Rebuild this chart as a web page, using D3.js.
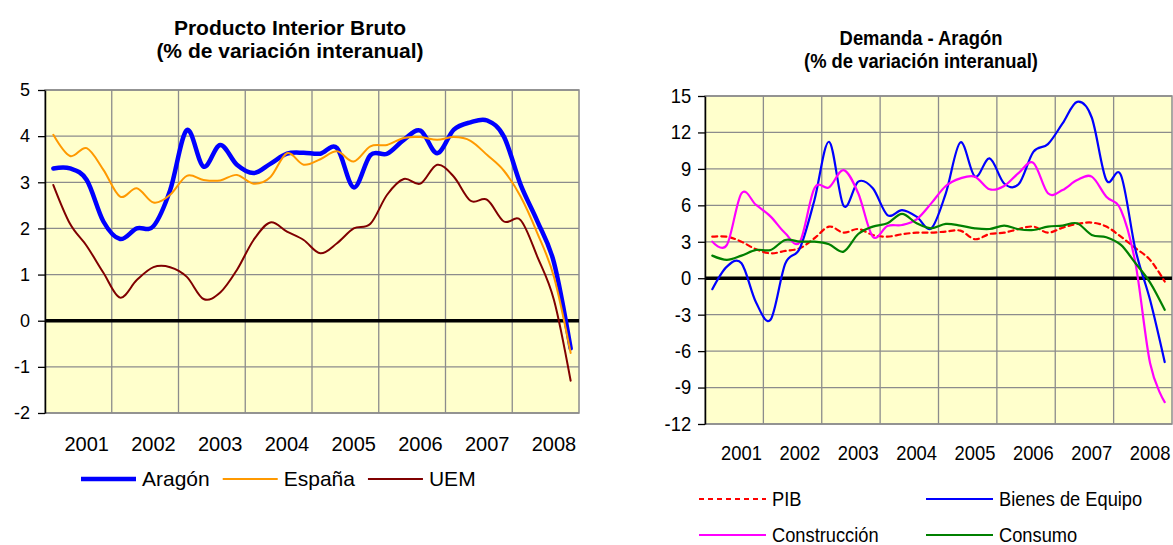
<!DOCTYPE html>
<html lang="es">
<head>
<meta charset="utf-8">
<title>PIB y Demanda - Aragón</title>
<script src="https://cdn.jsdelivr.net/npm/d3@7"></script>
<style>
  body { margin: 0; background: #fff; }
  svg text { font-family: "Liberation Sans", Arial, sans-serif; fill: #000; }
</style>
</head>
<body>
<div id="box"></div>
<script>
// años y trimestres (categorías)
const years = [2001, 2002, 2003, 2004, 2005, 2006, 2007, 2008]
const quarters = years.flatMap(y => [1, 2, 3, 4].map(q => y + '-T' + q))

// Producto Interior Bruto (% variación interanual)
const aragon = [3.3, 3.3, 3.05, 2.15, 1.77, 2.0, 2.05, 2.83, 4.13, 3.34, 3.81, 3.38, 3.2, 3.4, 3.62, 3.64,
  3.62, 3.74, 2.89, 3.59, 3.62, 3.92, 4.12, 3.63, 4.14, 4.3, 4.34, 3.99, 2.95, 2.16, 1.26, -0.6]
const espana = [4.03, 3.57, 3.74, 3.27, 2.69, 2.87, 2.56, 2.73, 3.14, 3.05, 3.04, 3.16, 2.97, 3.11, 3.63, 3.38,
  3.5, 3.67, 3.45, 3.78, 3.81, 3.96, 3.98, 3.92, 3.98, 3.9, 3.59, 3.25, 2.69, 1.9, 0.95, -0.7]
const uem = [2.94, 2.1, 1.62, 1.04, 0.5, 0.88, 1.16, 1.16, 0.95, 0.47, 0.61, 1.1, 1.75, 2.13, 1.93, 1.75,
  1.46, 1.68, 2.0, 2.1, 2.73, 3.07, 2.97, 3.38, 3.12, 2.6, 2.62, 2.15, 2.18, 1.39, 0.45, -1.3]
const pibTicks = [-2, -1, 0, 1, 2, 3, 4, 5]

// Demanda - Aragón (% variación interanual)
const pib = [3.42, 3.42, 3.01, 2.38, 2.05, 2.25, 2.47, 3.29, 4.25, 3.75, 4.05, 3.56, 3.42, 3.62, 3.75, 3.75,
  3.84, 3.92, 3.21, 3.64, 3.75, 4.05, 4.25, 3.75, 4.16, 4.47, 4.58, 4.25, 3.42, 2.47, 1.51, -0.27]
const bienes = [-0.9, 0.96, 1.23, -2.0, -3.4, 1.2, 2.47, 6.44, 11.23, 5.95, 7.95, 7.4, 5.2, 5.6, 5.07, 4.1,
  6.99, 11.18, 8.36, 9.86, 7.8, 7.75, 10.4, 11.04, 12.74, 14.52, 13.23, 8.08, 8.49, 2.33, -1.8, -6.9]
const construccion = [3.01, 2.74, 6.99, 6.03, 5.07, 3.7, 3.0, 7.4, 7.48, 8.9, 6.99, 3.42, 4.3, 4.38, 4.85, 6.16,
  7.59, 8.22, 8.36, 7.32, 7.59, 8.68, 9.5, 6.99, 7.26, 8.08, 8.36, 6.71, 5.62, 1.2, -7.0, -10.2]
const consumo = [1.86, 1.51, 1.86, 2.33, 2.33, 3.15, 3.01, 3.01, 2.79, 2.19, 3.64, 4.25, 4.52, 5.29, 4.52, 4.11,
  4.47, 4.33, 4.11, 4.05, 4.33, 4.03, 3.97, 4.25, 4.33, 4.52, 3.56, 3.37, 2.74, 1.23, -0.36, -2.6]
const demTicks = [-12, -9, -6, -3, 0, 3, 6, 9, 12, 15]

const eleSvg = d3.select('#box')
  .append('svg')
  .attr('width', 1173)
  .attr('height', 545)

function drawPanel(opt) {
  const g = eleSvg.append('g')
  const m = opt.box
  const sx = opt.scaleX

  const xScale = d3.scalePoint()
    .domain(quarters)
    .range([m.left, m.right])
    .padding(0.5)
  const yScale = d3.scaleLinear()
    .domain(d3.extent(opt.ticks))
    .range([m.bottom, m.top])

  // fondo
  g.append('rect')
    .attr('x', m.left).attr('y', m.top)
    .attr('width', m.right - m.left).attr('height', m.bottom - m.top)
    .attr('fill', '#FFFFCC')

  // rejilla horizontal
  g.selectAll('.hgrid')
    .data(opt.ticks)
    .enter()
    .append('line')
    .attr('x1', m.left).attr('x2', m.right)
    .attr('y1', d => yScale(d)).attr('y2', d => yScale(d))
    .attr('stroke', '#8c8c8c').attr('stroke-width', 1.3)

  // rejilla vertical (separación entre años)
  g.selectAll('.vgrid')
    .data(years.slice(1))
    .enter()
    .append('line')
    .attr('x1', d => xScale(d + '-T1') - xScale.step() / 2)
    .attr('x2', d => xScale(d + '-T1') - xScale.step() / 2)
    .attr('y1', m.top).attr('y2', m.bottom)
    .attr('stroke', '#8c8c8c').attr('stroke-width', 1.3)

  // borde
  g.append('rect')
    .attr('x', m.left).attr('y', m.top)
    .attr('width', m.right - m.left).attr('height', m.bottom - m.top)
    .attr('fill', 'none')
    .attr('stroke', '#8c8c8c').attr('stroke-width', 1.5)

  // eje en 0
  g.append('line')
    .attr('x1', m.left).attr('x2', m.right)
    .attr('y1', yScale(0)).attr('y2', yScale(0))
    .attr('stroke', '#000').attr('stroke-width', 3.5)

  // eje y
  const yAxis = d3.axisLeft(yScale)
    .tickValues(opt.ticks)
    .tickFormat(d => String(d))
    .tickSize(7)
    .tickSizeOuter(0)
    .tickPadding(8)
  const axG = g.append('g')
    .attr('transform', `translate(${m.left},0)`)
    .call(yAxis)
  axG.select('.domain').attr('stroke', '#000').attr('stroke-width', 1.5)
  axG.selectAll('.tick line').attr('stroke', '#000').attr('stroke-width', 1.3)
  axG.selectAll('.tick text')
    .attr('font-size', opt.tickFont)
    .attr('font-family', '"Liberation Sans", Arial, sans-serif')
    .attr('transform', `scale(${sx},1)`)

  // etiquetas de año (en el tercer trimestre)
  g.selectAll('.year')
    .data(years)
    .enter()
    .append('text')
    .attr('transform', d => `translate(${xScale(d + '-T3')},${opt.yearY}) scale(${sx},1)`)
    .attr('text-anchor', 'middle')
    .attr('font-size', opt.yearFont)
    .text(d => d)

  // series
  const line = d3.line()
    .x((d, i) => xScale(quarters[i]))
    .y(d => yScale(d))
    .curve(d3.curveCatmullRom.alpha(0))
  opt.series.forEach(s => {
    g.append('path')
      .attr('d', line(s.values))
      .attr('fill', 'none')
      .attr('stroke', s.color)
      .attr('stroke-width', s.width)
      .attr('stroke-dasharray', s.dash || null)
      .attr('stroke-linejoin', 'round')
      .attr('stroke-linecap', 'round')
  })

  // título
  opt.title.forEach((t, i) => {
    g.append('text')
      .attr('transform', `translate(${opt.titleX},${opt.titleY[i]}) scale(${sx},1)`)
      .attr('text-anchor', 'middle')
      .attr('font-weight', 'bold')
      .attr('font-size', opt.titleFont)
      .text(t)
  })
  return g
}

function legendItem(g, s, x, y, len, font, sx) {
  g.append('line')
    .attr('x1', x).attr('x2', x + len)
    .attr('y1', y).attr('y2', y)
    .attr('stroke', s.color)
    .attr('stroke-width', s.legendWidth || s.width)
    .attr('stroke-dasharray', s.dash || null)
  const t = g.append('text')
    .attr('transform', `translate(${x + len + 6},${y + 7}) scale(${sx},1)`)
    .attr('font-size', font)
    .text(s.name)
  return x + len + 6 + t.node().getComputedTextLength() * sx
}

// Gráfico izquierdo
const pibSeries = [
  { name: 'Aragón', values: aragon, color: '#0000FF', width: 4.5 },
  { name: 'España', values: espana, color: '#FF9900', width: 2 },
  { name: 'UEM', values: uem, color: '#800000', width: 2 }
]
const gLeft = drawPanel({
  box: { left: 45, right: 579, top: 90, bottom: 413 },
  ticks: pibTicks,
  series: pibSeries,
  scaleX: 1,
  tickFont: 18,
  yearFont: 20,
  yearY: 451,
  title: ['Producto Interior Bruto', '(% de variación interanual)'],
  titleX: 290,
  titleY: [35, 58],
  titleFont: 21
})
let lx = 81
pibSeries.forEach(s => {
  lx = legendItem(gLeft, s, lx, 479, 55, 21, 1) + 13
})

// Gráfico derecho
const demSeries = [
  { name: 'PIB', values: pib, color: '#FF0000', width: 2.2, dash: '5,4' },
  { name: 'Bienes de Equipo', values: bienes, color: '#0000FF', width: 2.2 },
  { name: 'Construcción', values: construccion, color: '#FF00FF', width: 2.2 },
  { name: 'Consumo', values: consumo, color: '#008000', width: 2.2 }
]
const gRight = drawPanel({
  box: { left: 705, right: 1172, top: 96, bottom: 424 },
  ticks: demTicks,
  series: demSeries,
  scaleX: 0.92,
  tickFont: 20,
  yearFont: 20,
  yearY: 460,
  title: ['Demanda - Aragón', '(% de variación interanual)'],
  titleX: 921,
  titleY: [45, 68],
  titleFont: 20
})
demSeries.forEach((s, i) => {
  const col = i % 2
  const row = Math.floor(i / 2)
  legendItem(gRight, s, col ? 926 : 699, row ? 535 : 499, 67, 21, 0.87)
})
</script>
</body>
</html>
